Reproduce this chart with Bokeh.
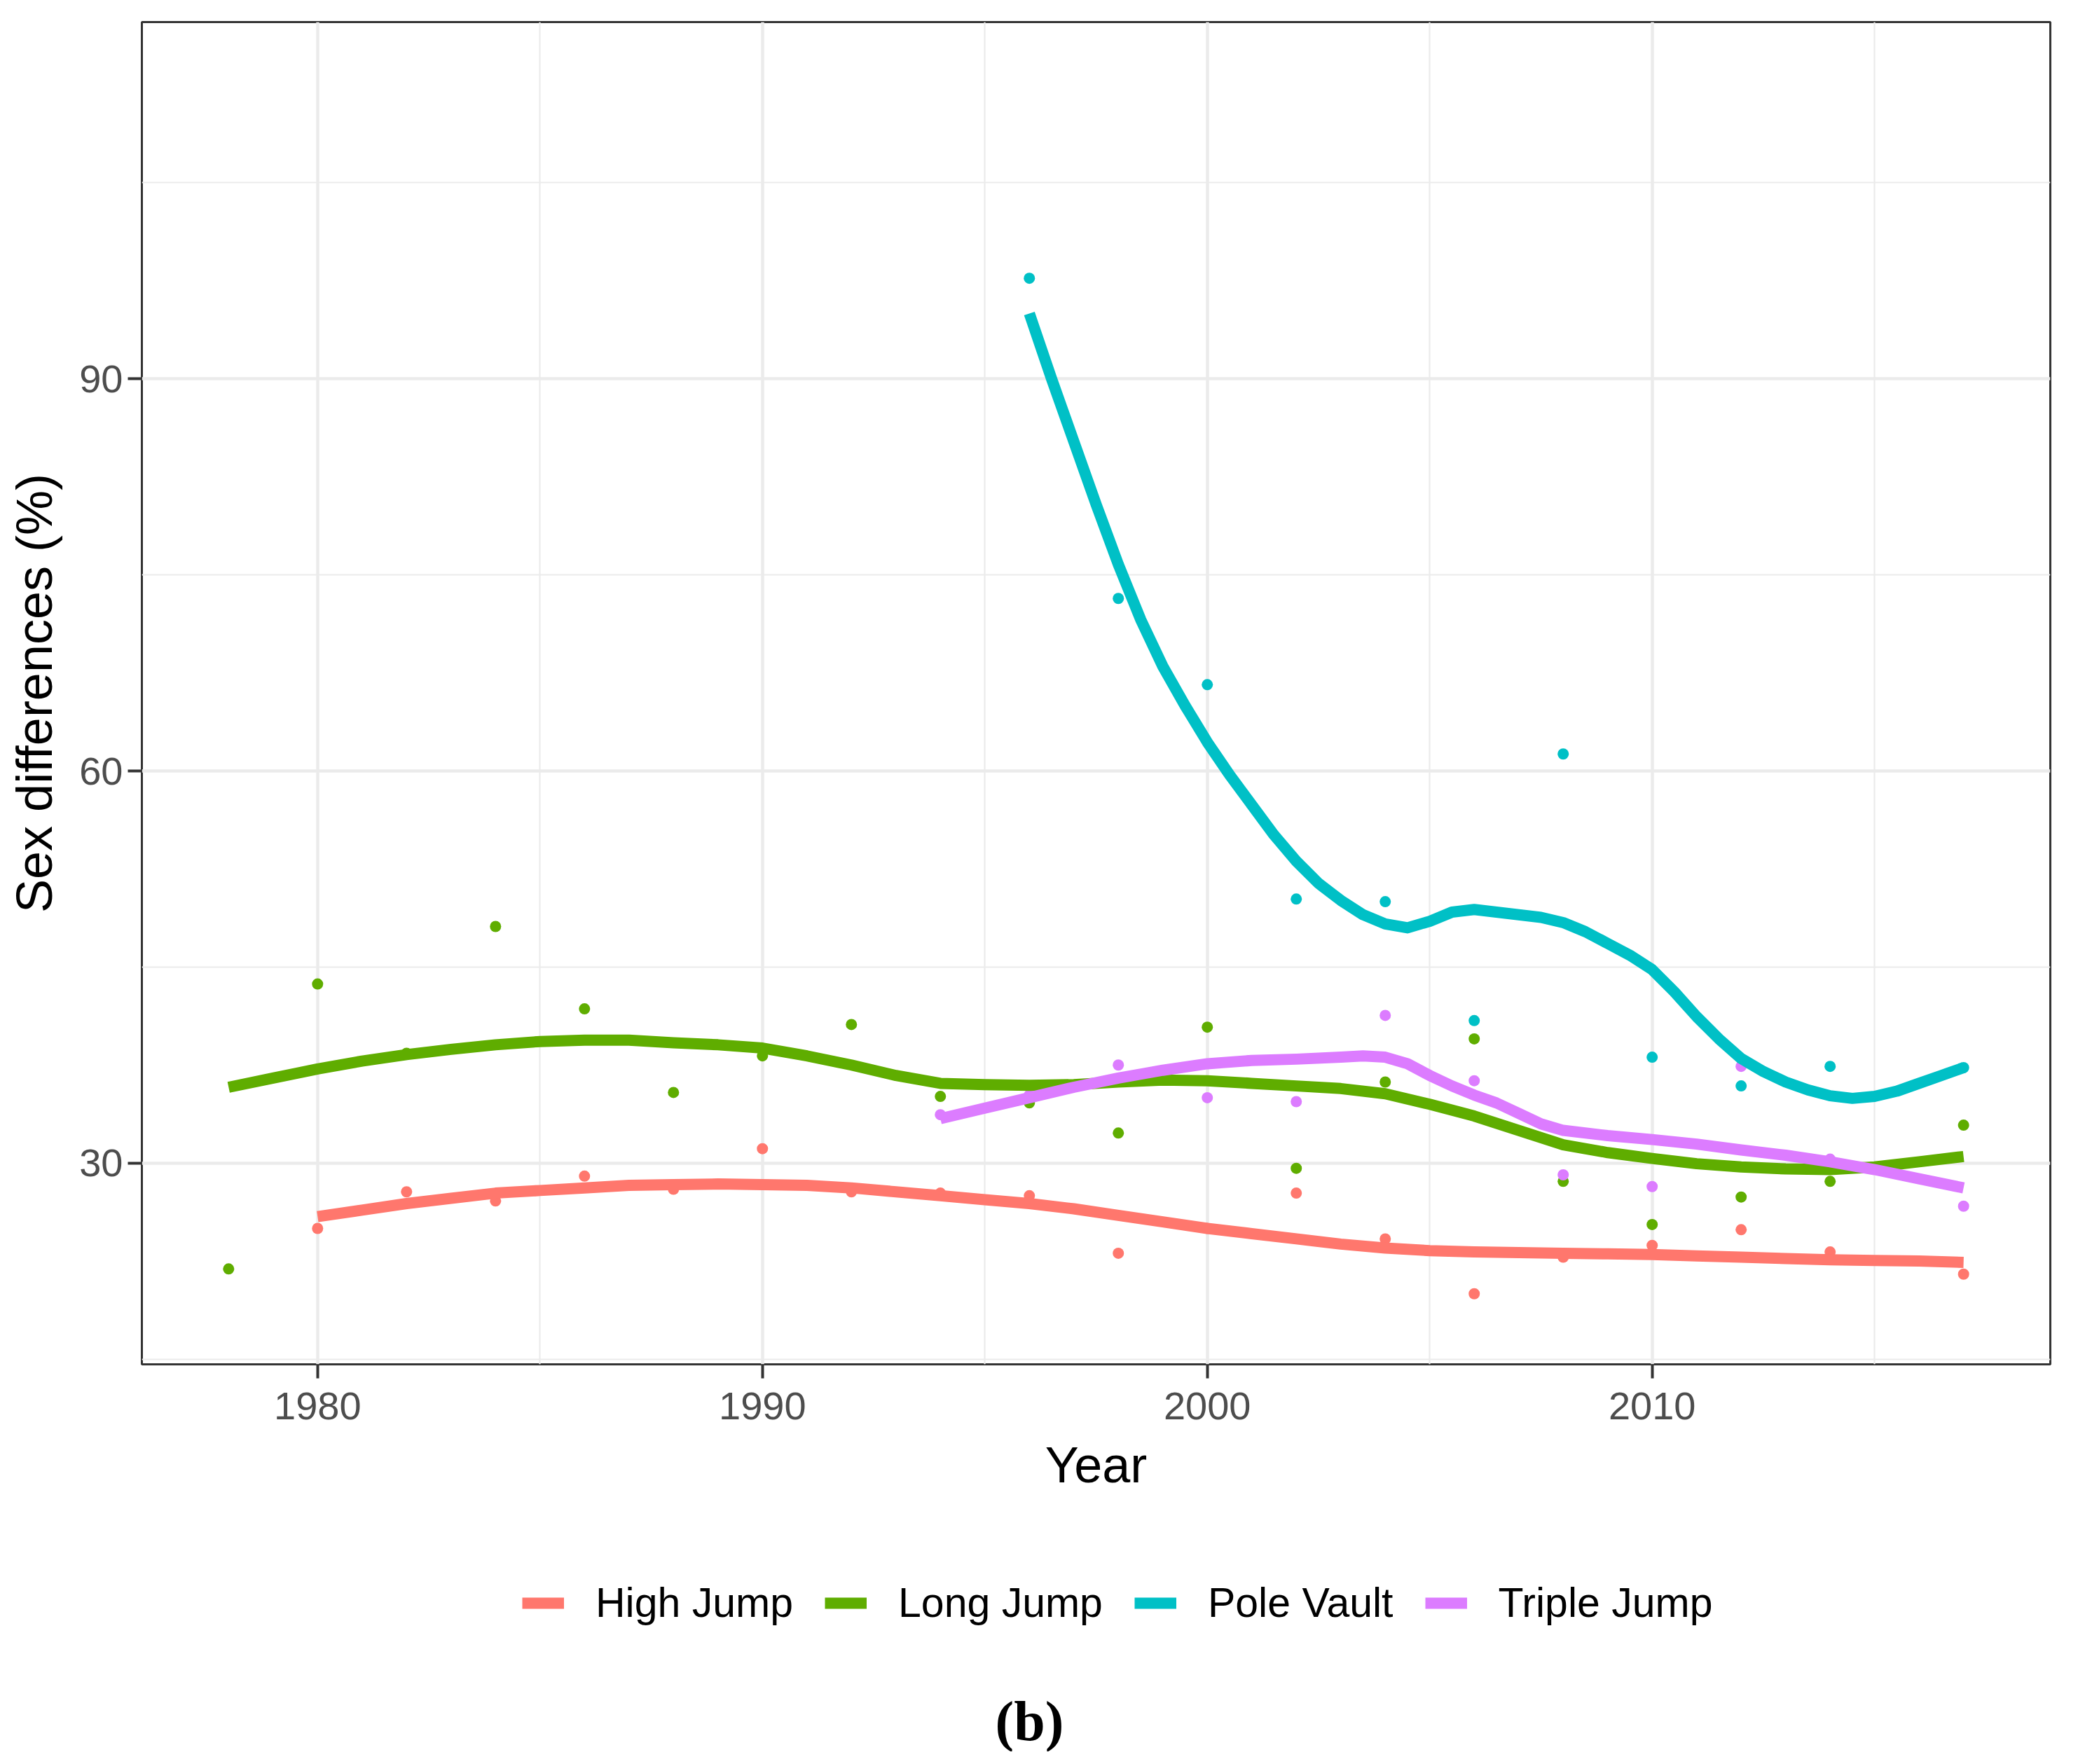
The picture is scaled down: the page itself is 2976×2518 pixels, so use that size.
from bokeh.plotting import figure
from bokeh.layouts import column
from bokeh.models import Range1d, FixedTicker, Legend, LegendItem, Label
from bokeh.embed import file_html
from bokeh.resources import INLINE

# ---------------- data ----------------
event_names = ["High Jump", "Long Jump", "Pole Vault", "Triple Jump"]
event_colors = ["#FF776D", "#5FAD00", "#00C0C6", "#DC7CFF"]

# observed points
hj_years = [1980, 1982, 1984, 1986, 1988, 1990, 1992, 1994, 1996, 1998,
            2000, 2002, 2004, 2006, 2008, 2010, 2012, 2014, 2017]
hj_values = [25.0, 27.8, 27.1, 29.0, 28.0, 31.1, 27.8, 27.7, 27.5, 23.1,
             25.0, 27.7, 24.2, 20.0, 22.8, 23.7, 24.9, 23.2, 21.5]

lj_years = [1978, 1980, 1982, 1984, 1986, 1988, 1990, 1992, 1994, 1996,
            1998, 2000, 2002, 2004, 2006, 2008, 2010, 2012, 2014, 2017]
lj_values = [21.9, 43.7, 38.4, 48.1, 41.8, 35.4, 38.2, 40.6, 35.1, 34.6,
             32.3, 40.4, 29.6, 36.2, 39.5, 28.6, 25.3, 27.4, 28.6, 32.9]

pv_years = [1996, 1998, 2000, 2002, 2004, 2006, 2008, 2010, 2012, 2014, 2017]
pv_values = [97.7, 73.2, 66.6, 50.2, 50.0, 40.9, 61.3, 38.1, 35.9, 37.4, 37.3]

tj_years = [1994, 1996, 1998, 2000, 2002, 2004, 2006, 2008, 2010, 2012, 2014, 2017]
tj_values = [33.7, 35.2, 37.5, 35.0, 34.7, 41.3, 36.3, 29.1, 28.2, 37.4, 30.3, 26.7]

# smoothed trend curves
hj_fit_years = [1980, 1981, 1982, 1983, 1984, 1985, 1986, 1987, 1988, 1989,
                1990, 1991, 1992, 1993, 1994, 1995, 1996, 1997, 1998, 1999,
                2000, 2001, 2002, 2003, 2004, 2005, 2006, 2007, 2008, 2009,
                2010, 2011, 2012, 2013, 2014, 2015, 2016, 2017]
hj_fit_values = [25.9, 26.4, 26.9, 27.3, 27.7, 27.9, 28.1, 28.3, 28.35, 28.4,
                 28.35, 28.3, 28.1, 27.8, 27.5, 27.2, 26.9, 26.5, 26.0, 25.5,
                 25.0, 24.6, 24.2, 23.8, 23.5, 23.3, 23.2, 23.15, 23.1, 23.05,
                 23.0, 22.9, 22.8, 22.7, 22.6, 22.55, 22.5, 22.4]

lj_fit_years = [1978, 1979, 1980, 1981, 1982, 1983, 1984, 1985, 1986, 1987,
                1988, 1989, 1990, 1991, 1992, 1993, 1994, 1995, 1996, 1997,
                1998, 1999, 2000, 2001, 2002, 2003, 2004, 2005, 2006, 2007,
                2008, 2009, 2010, 2011, 2012, 2013, 2014, 2015, 2016, 2017]
lj_fit_values = [35.8, 36.5, 37.2, 37.8, 38.3, 38.7, 39.05, 39.3, 39.4, 39.4,
                 39.2, 39.05, 38.8, 38.2, 37.5, 36.7, 36.1, 36.0, 35.95, 36.0,
                 36.2, 36.35, 36.3, 36.1, 35.9, 35.7, 35.3, 34.5, 33.6, 32.5,
                 31.4, 30.8, 30.35, 29.95, 29.7, 29.55, 29.5, 29.7, 30.1, 30.5]

pv_fit_years = [1996, 1996.5, 1997, 1997.5, 1998, 1998.5, 1999, 1999.5, 2000, 2000.5,
                2001, 2001.5, 2002, 2002.5, 2003, 2003.5, 2004, 2004.5, 2005, 2005.5,
                2006, 2006.5, 2007, 2007.5, 2008, 2008.5, 2009, 2009.5, 2010, 2010.5,
                2011, 2011.5, 2012, 2012.5, 2013, 2013.5, 2014, 2014.5, 2015, 2015.5,
                2016, 2016.5, 2017]
pv_fit_values = [95.0, 90.0, 85.2, 80.4, 75.8, 71.6, 68.0, 65.0, 62.2, 59.7,
                 57.4, 55.1, 53.1, 51.4, 50.1, 49.0, 48.3, 48.0, 48.5, 49.2,
                 49.4, 49.2, 49.0, 48.8, 48.4, 47.7, 46.8, 45.9, 44.8, 43.1,
                 41.2, 39.5, 38.0, 37.0, 36.2, 35.6, 35.15, 34.95, 35.1, 35.5,
                 36.1, 36.7, 37.3]

tj_fit_years = [1994, 1995, 1996, 1997, 1998, 1999, 2000, 2001, 2002, 2003,
                2003.5, 2004, 2004.5, 2005, 2005.5, 2006, 2006.5, 2007, 2007.5, 2008,
                2009, 2010, 2011, 2012, 2013, 2014, 2015, 2016, 2017]
tj_fit_values = [33.4, 34.2, 35.0, 35.8, 36.5, 37.1, 37.6, 37.85, 37.95, 38.1,
                 38.2, 38.1, 37.6, 36.7, 35.9, 35.2, 34.6, 33.8, 33.0, 32.5,
                 32.1, 31.8, 31.45, 31.0, 30.6, 30.1, 29.5, 28.8, 28.1]

x_major_ticks = [1980, 1990, 2000, 2010]
x_minor_ticks = [1975, 1985, 1995, 2005, 2015]
y_major_ticks = [30, 60, 90]
y_minor_ticks = [15, 45, 75, 105]

x_title = "Year"
y_title = "Sex differences (%)"
panel_tag = "(b)"

# ---------------- main chart ----------------
FONT = "Liberation Sans"
p = figure(width=2960, height=2170,
           x_range=Range1d(1976.05, 2018.95), y_range=Range1d(14.6, 117.3),
           output_backend="svg", toolbar_location=None,
           min_border_left=202, min_border_right=34,
           min_border_top=31, min_border_bottom=223,
           background_fill_color="white", border_fill_color="white")

p.outline_line_color = "#333333"
p.outline_line_width = 3

p.xaxis.ticker = FixedTicker(ticks=x_major_ticks, minor_ticks=x_minor_ticks)
p.yaxis.ticker = FixedTicker(ticks=y_major_ticks, minor_ticks=y_minor_ticks)

for ax in (p.xaxis, p.yaxis):
    ax.axis_line_color = None
    ax.major_tick_line_color = "#333333"
    ax.major_tick_line_width = 4
    ax.major_tick_out = 20
    ax.major_tick_in = 0
    ax.minor_tick_line_color = None
    ax.major_label_text_font = FONT
    ax.major_label_text_font_size = "56px"
    ax.major_label_text_color = "#4D4D4D"
    ax.axis_label_text_font = FONT
    ax.axis_label_text_font_size = "72px"
    ax.axis_label_text_font_style = "normal"
    ax.axis_label_text_color = "black"

p.xaxis.axis_label = x_title
p.yaxis.axis_label = y_title
p.xaxis.major_label_standoff = 20
p.yaxis.major_label_standoff = 7
p.xaxis.axis_label_standoff = 22
p.yaxis.axis_label_standoff = 21

for g in (p.xgrid, p.ygrid):
    g.grid_line_color = "#EBEBEB"
    g.grid_line_width = 4.5
    g.minor_grid_line_color = "#EBEBEB"
    g.minor_grid_line_width = 2.2

point_sets = [(hj_years, hj_values), (lj_years, lj_values),
              (pv_years, pv_values), (tj_years, tj_values)]
fit_sets = [(hj_fit_years, hj_fit_values), (lj_fit_years, lj_fit_values),
            (pv_fit_years, pv_fit_values), (tj_fit_years, tj_fit_values)]

for (xs, ys), c in zip(point_sets, event_colors):
    p.scatter(xs, ys, size=16, fill_color=c, line_color=None)

for (xs, ys), c in zip(fit_sets, event_colors):
    p.line(xs, ys, line_color=c, line_width=16, line_join="round")

# ---------------- legend / caption strip ----------------
# (its frame is aligned with the chart's frame by the column layout)
q = figure(width=2960, height=330, x_range=Range1d(0, 1), y_range=Range1d(0, 1),
           output_backend="svg", toolbar_location=None,
           x_axis_location=None, y_axis_location=None, min_border=0,
           background_fill_color="white", border_fill_color="white",
           outline_line_color=None)
q.grid.visible = False

items = []
for (xs, ys), c, name in zip(fit_sets, event_colors, event_names):
    r = q.line(xs, ys, line_color=c, line_width=16, visible=False)
    items.append(LegendItem(label=name, renderers=[r]))

legend = Legend(items=items, orientation="horizontal", location=(543, 178),
                glyph_width=60, glyph_height=20, label_standoff=45, spacing=45,
                padding=0, margin=0, border_line_color=None,
                background_fill_alpha=0, inactive_fill_alpha=0,
                label_text_font=FONT, label_text_font_size="59px",
                label_text_color="black")
q.add_layout(legend)

tag = Label(x=1267, y=44, x_units="screen", y_units="screen", text=panel_tag,
            text_font="Liberation Serif", text_font_style="bold",
            text_font_size="80px", text_align="center",
            text_baseline="alphabetic", text_color="black")
q.add_layout(tag)

layout = column(p, q, spacing=0)
open("out.html", "w").write(file_html(layout, INLINE))
